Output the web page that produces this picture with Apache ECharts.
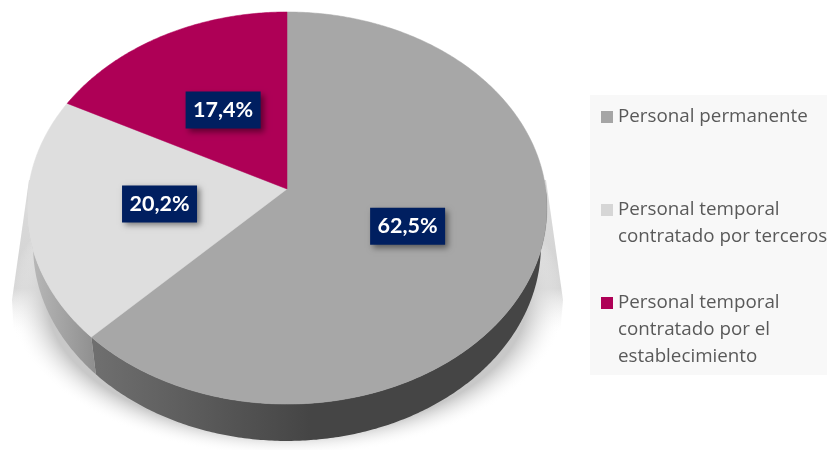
<!DOCTYPE html>
<html><head><meta charset="utf-8">
<script src="https://cdn.jsdelivr.net/npm/echarts@6/dist/echarts.min.js"></script>
<style>html,body{margin:0;padding:0;background:#fff}#c{width:827px;height:450px}</style>
</head><body><div id="c"></div>
<script>
const categories = ['Personal permanente', 'Personal temporal\ncontratado por terceros', 'Personal temporal\ncontratado por el\nestablecimiento'];
const values = [62.5, 20.2, 17.4];
const labels = ['62,5%', '20,2%', '17,4%'];
const colors = ['#a7a7a7', '#dedede', '#ae0056'];
const legendColors = ['#a5a5a5', '#d6d6d6', '#ae0056'];

const total = values.reduce((a, b) => a + b, 0);
const spans = [];
values.reduce((acc, v) => { spans.push([acc / total * 2 * Math.PI, (acc + v) / total * 2 * Math.PI]); return acc + v; }, 0);

// perspective projection of the pie disc
const K = -0.097;
const TOP = { cx: 287, cy: 189, R: 258.7, A: 194.2 };
const BOTTOM = { cx: 287, cy: 227, R: 252.7, A: 193.2 };
function project(p, ang, f) {
  const u = Math.sin(ang) * f, v = -Math.cos(ang) * f;
  const d = 1 + K * v;
  return [p.cx + p.R * u / d, p.cy + p.A * v / d];
}
function arc(p, a0, a1) {
  const n = Math.max(2, Math.ceil((a1 - a0) / 0.01)), pts = [];
  for (let i = 0; i <= n; i++) pts.push(project(p, a0 + (a1 - a0) * i / n, 1));
  return pts;
}
const G = echarts.graphic;
const wallFills = [
  new G.LinearGradient(95, 0, 310, 0, [{offset: 0, color: '#6f6f6f'}, {offset: 1, color: '#454545'}], true),
  new G.LinearGradient(28, 0, 95, 0, [{offset: 0, color: '#bababa'}, {offset: 1, color: '#8f8f8f'}], true),
  '#cccccc'
];

const option = {
  animation: false,
  backgroundColor: '#ffffff',
  graphic: [
    { type: 'rect', shape: { x: 590, y: 95, width: 237, height: 280 }, style: { fill: '#f8f8f8' }, z: 1 },
    ...categories.flatMap((name, i) => {
      const y = 103 + i * 93;
      return [
        { type: 'rect', shape: { x: 601, y: y + 8, width: 12, height: 12 }, style: { fill: legendColors[i] }, z: 2 },
        { type: 'text', x: 618, y: y, style: { text: name, fill: '#595959', font: '18.8px "Open Sans"', lineHeight: 27, align: 'left', verticalAlign: 'top' }, z: 2 }
      ];
    })
  ],
  series: [
    {
      type: 'custom', coordinateSystem: 'none', silent: true, z: 1, data: [0],
      renderItem: () => ({ type: 'group', children: [
        { type: 'polygon',
          shape: { points: [[29, 180], [12, 300], [14, 335], [560, 335], [563, 300], [546, 180]] },
          style: { fill: new G.LinearGradient(0, 180, 0, 335, [
            {offset: 0, color: '#dcdcdc'}, {offset: 0.7, color: '#d2d2d2'}, {offset: 1, color: 'rgba(255,255,255,0)'}
          ], true) } },
        { type: 'circle', x: 287, y: 300, scaleY: 0.56,
          shape: { cx: 0, cy: 0, r: 279 },
          style: { fill: new G.RadialGradient(0.5, 0.5, 0.5, [
            {offset: 0, color: '#c8c8c8'}, {offset: 0.86, color: '#c8c8c8'}, {offset: 1, color: 'rgba(255,255,255,0)'}
          ]) } }
      ] })
    },
    {
      type: 'custom', coordinateSystem: 'none', silent: true, z: 2, data: values,
      renderItem: (params) => {
        const a0 = Math.max(spans[params.dataIndex][0], Math.PI / 2);
        const a1 = Math.min(spans[params.dataIndex][1], Math.PI * 1.5);
        if (a1 <= a0) return null;
        const f = wallFills[params.dataIndex];
        return { type: 'polygon', shape: { points: arc(TOP, a0, a1).concat(arc(BOTTOM, a0, a1).reverse()) }, style: { fill: f } };
      }
    },
    {
      type: 'custom', coordinateSystem: 'none', silent: true, z: 3, data: values,
      renderItem: (params) => {
        const [a0, a1] = spans[params.dataIndex];
        const c = colors[params.dataIndex];
        return { type: 'polygon', shape: { points: [[TOP.cx, TOP.cy]].concat(arc(TOP, a0, a1)) }, style: { fill: c, stroke: c, lineWidth: 0.5 } };
      }
    },
    {
      type: 'custom', coordinateSystem: 'none', silent: true, z: 4, data: labels,
      renderItem: (params) => {
        const [a0, a1] = spans[params.dataIndex];
        const [x, y] = project(TOP, (a0 + a1) / 2, 0.495);
        return { type: 'group', x, y, children: [
          { type: 'rect', shape: { x: -37.5, y: -18.5, width: 75, height: 37 }, style: { fill: '#001f60', shadowColor: 'rgba(0,0,0,0.45)', shadowBlur: 6, shadowOffsetX: 3, shadowOffsetY: 3 } },
          { type: 'text', x: 0, y: 0, style: { text: labels[params.dataIndex], fill: '#ffffff', font: 'bold 21.5px "Lato"', align: 'center', verticalAlign: 'middle' } }
        ] };
      }
    }
  ]
};
const chart = echarts.init(document.getElementById('c'), null, { renderer: 'canvas' });
chart.setOption(option);
</script></body></html>
